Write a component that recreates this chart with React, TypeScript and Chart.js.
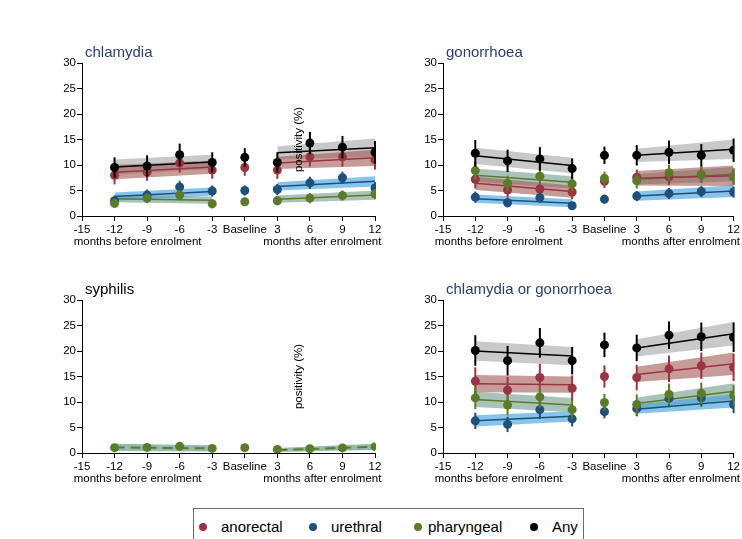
import React, { useEffect, useRef } from 'react';
import { Chart, registerables } from 'chart.js';

Chart.register(...registerables);

const FONT = "'Liberation Sans', Arial, Helvetica, sans-serif";

// ---- axes ----
const xPositions = [-12, -9, -6, -3, 0, 3, 6, 9, 12];
const xTickValues = [-15, -12, -9, -6, -3, 0, 3, 6, 9, 12];
const xTickLabels = ['-15', '-12', '-9', '-6', '-3', 'Baseline', '3', '6', '9', '12'];
const preFitX = [-12, -3];
const postFitX = [3, 12];
const beforeLabel = 'months before enrolment';
const afterLabel = 'months after enrolment';
const yTitle = 'positivity (%)';
const legendLabels = ['anorectal', 'urethral', 'pharyngeal', 'Any'];

// ---- chlamydia ----
const chlAnorectal = [8.0, 8.6, 10.4, 9.0, 9.5, 9.0, 11.6, 11.6, 11.0];
const chlAnorectalErr = [1.8, 1.7, 1.9, 1.7, 1.6, 1.7, 1.9, 1.9, 1.9];
const chlUrethral = [3.0, 4.1, 5.7, 4.9, 5.0, 5.2, 6.5, 7.5, 5.5];
const chlUrethralErr = [1.0, 1.1, 1.2, 1.1, 1.0, 1.1, 1.2, 1.2, 1.1];
const chlPharyngeal = [2.5, 3.5, 4.1, 2.4, 2.8, 3.0, 3.5, 4.0, 4.3];
const chlPharyngealErr = [0.9, 1.0, 1.0, 0.9, 0.8, 0.9, 1.0, 1.0, 1.0];
const chlAny = [9.5, 9.8, 12.0, 10.5, 11.5, 10.5, 14.3, 13.5, 12.5];
const chlAnyErr = [2.0, 2.1, 2.2, 2.0, 1.8, 2.0, 2.2, 2.2, 2.2];
// fits: [pre start, pre end, post start, post end]; band: half widths
const chlAnorectalFit = [8.6, 9.6, 10.4, 11.4];
const chlAnorectalBand = [1.4, 1.3, 1.2, 1.6];
const chlUrethralFit = [3.8, 4.8, 5.8, 6.8];
const chlUrethralBand = [0.8, 0.8, 0.8, 1.0];
const chlPharyngealFit = [3.4, 3.1, 3.3, 4.1];
const chlPharyngealBand = [0.7, 0.7, 0.7, 0.9];
const chlAnyFit = [9.6, 10.6, 12.4, 13.4];
const chlAnyBand = [1.5, 1.4, 1.3, 1.8];

// ---- gonorrhoea ----
const gonAnorectal = [7.2, 5.1, 5.3, 4.7, 6.8, 7.6, 7.7, 8.1, 7.7];
const gonAnorectalErr = [1.8, 1.5, 1.5, 1.4, 1.3, 1.5, 1.6, 1.6, 1.6];
const gonUrethral = [3.7, 2.6, 3.6, 2.0, 3.3, 3.9, 4.4, 4.8, 4.7];
const gonUrethralErr = [1.1, 0.9, 1.0, 0.8, 0.9, 1.0, 1.1, 1.1, 1.1];
const gonPharyngeal = [8.9, 6.4, 7.8, 6.3, 7.4, 6.9, 8.5, 8.1, 7.7];
const gonPharyngealErr = [1.8, 1.5, 1.6, 1.4, 1.3, 1.5, 1.6, 1.6, 1.6];
const gonAny = [12.3, 10.8, 11.2, 9.3, 11.9, 11.9, 12.5, 11.9, 12.9];
const gonAnyErr = [2.6, 2.2, 2.3, 2.0, 1.7, 2.0, 2.3, 2.2, 2.3];
const gonAnorectalFit = [6.4, 4.8, 7.4, 7.9];
const gonAnorectalBand = [1.3, 1.2, 1.4, 2.0];
const gonUrethralFit = [3.4, 2.5, 3.9, 4.9];
const gonUrethralBand = [0.8, 0.8, 0.9, 1.15];
const gonPharyngealFit = [8.0, 6.6, 7.2, 8.2];
const gonPharyngealBand = [1.3, 1.2, 1.0, 1.4];
const gonAnyFit = [11.8, 9.9, 11.9, 13.1];
const gonAnyBand = [1.6, 1.5, 1.3, 1.9];

// ---- syphilis ----
const syphAny = [1.05, 1.1, 1.3, 0.9, 1.05, 0.7, 0.85, 1.0, 1.25];
const syphAnyErr = [0.6, 0.6, 0.6, 0.5, 0.5, 0.5, 0.5, 0.5, 0.6];
const syphAnyFit = [1.1, 0.9, 0.6, 1.2];
const syphAnyBand = [0.7, 0.6, 0.4, 0.6];

// ---- chlamydia or gonorrhoea ----
const cgAnorectal = [14.1, 12.3, 14.8, 12.7, 15.0, 14.8, 16.5, 17.1, 16.8];
const cgAnorectalErr = [2.7, 2.6, 2.7, 2.5, 2.2, 2.5, 2.6, 2.6, 2.7];
const cgUrethral = [6.3, 5.6, 8.5, 6.7, 8.1, 8.7, 10.7, 10.8, 9.5];
const cgUrethralErr = [1.6, 1.5, 1.8, 1.5, 1.3, 1.5, 1.7, 1.7, 1.7];
const cgPharyngeal = [10.8, 9.4, 11.0, 8.5, 9.9, 9.5, 11.5, 11.7, 11.3];
const cgPharyngealErr = [2.2, 2.0, 2.1, 1.9, 1.7, 2.0, 2.1, 2.1, 2.1];
const cgAny = [20.1, 18.1, 21.6, 18.1, 21.2, 20.6, 23.1, 22.8, 22.7];
const cgAnyErr = [3.0, 2.9, 2.9, 2.7, 2.4, 2.6, 2.7, 2.8, 2.9];
const cgAnorectalFit = [13.6, 13.4, 15.4, 17.5];
const cgAnorectalBand = [1.7, 1.6, 1.5, 2.2];
const cgUrethralFit = [6.3, 7.2, 8.6, 10.2];
const cgUrethralBand = [1.1, 1.0, 0.9, 1.3];
const cgPharyngealFit = [10.5, 9.4, 9.7, 12.1];
const cgPharyngealBand = [1.5, 1.4, 1.2, 1.6];
const cgAnyFit = [20.0, 19.0, 20.6, 23.4];
const cgAnyBand = [1.9, 1.8, 1.7, 2.3];

// ---- styles ----
const COLORS = {
  anorectal: '#9b3442',
  urethral: '#1f4f7a',
  pharyngeal: '#5b7b2b',
  any: '#000000',
};
const BANDS = {
  anorectal: 'rgba(160,90,85,0.6)',
  urethral: 'rgba(70,165,225,0.65)',
  pharyngeal: 'rgba(100,145,125,0.55)',
  any: 'rgba(120,120,120,0.4)',
  syph: 'rgba(65,130,110,0.55)',
};
const TITLE_BLUE = '#2d3f6e';

function series(key, pts, err, fit, band, bandColor?, dashed?) {
  return { key, color: COLORS[key], band: bandColor || BANDS[key], pts, err, fit, hw: band, dashed: !!dashed };
}

const panels = [
  {
    title: 'chlamydia', titleColor: TITLE_BLUE, left: 0, top: 20, w: 390, h: 230, padTop: 43, padRight: 15, yW: 82, yTitle: false,
    series: [
      series('anorectal', chlAnorectal, chlAnorectalErr, chlAnorectalFit, chlAnorectalBand),
      series('urethral', chlUrethral, chlUrethralErr, chlUrethralFit, chlUrethralBand),
      series('pharyngeal', chlPharyngeal, chlPharyngealErr, chlPharyngealFit, chlPharyngealBand),
      series('any', chlAny, chlAnyErr, chlAnyFit, chlAnyBand),
    ],
  },
  {
    title: 'gonorrhoea', titleColor: TITLE_BLUE, left: 290, top: 20, w: 452, h: 230, padTop: 43, padRight: 8, yW: 153, yTitle: true,
    series: [
      series('anorectal', gonAnorectal, gonAnorectalErr, gonAnorectalFit, gonAnorectalBand),
      series('urethral', gonUrethral, gonUrethralErr, gonUrethralFit, gonUrethralBand),
      series('pharyngeal', gonPharyngeal, gonPharyngealErr, gonPharyngealFit, gonPharyngealBand),
      series('any', gonAny, gonAnyErr, gonAnyFit, gonAnyBand),
    ],
  },
  {
    title: 'syphilis', titleColor: '#000', left: 0, top: 260, w: 390, h: 227, padTop: 40, padRight: 15, yW: 82, yTitle: false,
    series: [series('pharyngeal', syphAny, syphAnyErr, syphAnyFit, syphAnyBand, BANDS.syph, true)],
  },
  {
    title: 'chlamydia or gonorrhoea', titleColor: TITLE_BLUE, left: 290, top: 260, w: 452, h: 227, padTop: 40, padRight: 8, yW: 153, yTitle: true,
    series: [
      series('anorectal', cgAnorectal, cgAnorectalErr, cgAnorectalFit, cgAnorectalBand),
      series('urethral', cgUrethral, cgUrethralErr, cgUrethralFit, cgUrethralBand),
      series('pharyngeal', cgPharyngeal, cgPharyngealErr, cgPharyngealFit, cgPharyngealBand),
      series('any', cgAny, cgAnyErr, cgAnyFit, cgAnyBand),
    ],
  },
];

function buildDatasets(list) {
  const ds: any[] = [];
  list.forEach((s, si) => {
    [[0, preFitX], [2, postFitX]].forEach(([o, xs]: any) => {
      const hi = xs.map((x, k) => ({ x, y: s.fit[o + k] + s.hw[o + k] }));
      const lo = xs.map((x, k) => ({ x, y: s.fit[o + k] - s.hw[o + k] }));
      const line = xs.map((x, k) => ({ x, y: s.fit[o + k] }));
      ds.push({ data: hi, borderColor: 'rgba(0,0,0,0)', borderWidth: 1, pointRadius: 0, fill: false, order: 30 + si });
      ds.push({ data: lo, borderColor: 'rgba(0,0,0,0)', borderWidth: 1, pointRadius: 0, fill: '-1', backgroundColor: s.band, order: 30 + si });
      ds.push({
        data: line, borderColor: s.color, borderWidth: s.dashed ? 2 : 1.5, pointRadius: 0, fill: false, order: 20 + si,
        borderDash: s.dashed ? [10, 6] : [],
      });
    });
  });
  list.forEach((s, si) => {
    ds.push({
      data: xPositions.map((x, i) => ({ x, y: s.pts[i] })),
      err: s.err,
      showLine: false,
      pointRadius: 4.5,
      pointHoverRadius: 4.5,
      pointBorderWidth: 0,
      backgroundColor: s.color,
      borderColor: s.color,
      order: 10 - si,
    });
  });
  return ds;
}

const errorBarPlugin = {
  id: 'errbars',
  beforeDatasetDraw(chart, args) {
    const ds = chart.data.datasets[args.index];
    if (!ds.err) return;
    const { ctx } = chart;
    const ys = chart.scales.y;
    ctx.save();
    ctx.strokeStyle = ds.borderColor;
    ctx.lineWidth = 2;
    ds.data.forEach((p, i) => {
      const el = args.meta.data[i];
      if (!el) return;
      ctx.beginPath();
      ctx.moveTo(el.x, ys.getPixelForValue(p.y - ds.err[i]));
      ctx.lineTo(el.x, ys.getPixelForValue(p.y + ds.err[i]));
      ctx.stroke();
    });
    ctx.restore();
  },
};

const decorPlugin = {
  id: 'decor',
  afterDraw(chart, _args, opts) {
    const { ctx, chartArea, scales } = chart;
    ctx.save();
    ctx.textBaseline = 'middle';
    ctx.font = `15px ${FONT}`;
    ctx.fillStyle = opts.titleColor;
    ctx.textAlign = 'left';
    ctx.fillText(opts.title, chartArea.left + 3, chartArea.top - 10);
    ctx.font = `11.5px ${FONT}`;
    ctx.fillStyle = '#000';
    const xs = scales.x;
    const yb = chartArea.bottom + 26;
    const wFirst = ctx.measureText(xTickLabels[0]).width;
    const wLast = ctx.measureText(xTickLabels[xTickLabels.length - 1]).width;
    ctx.textAlign = 'left';
    ctx.fillText(beforeLabel, xs.getPixelForValue(xTickValues[0]) - wFirst / 2, yb);
    ctx.textAlign = 'right';
    ctx.fillText(afterLabel, xs.getPixelForValue(xTickValues[xTickValues.length - 1]) + wLast / 2, yb);
    ctx.restore();
  },
};

function makeConfig(p) {
  const tickFont = { family: FONT, size: 11.5 };
  return {
    type: 'line',
    data: { datasets: buildDatasets(p.series) },
    options: {
      animation: false,
      responsive: false,
      devicePixelRatio: 1,
      events: [],
      layout: { padding: { top: p.padTop, right: p.padRight, left: 0, bottom: 0 } },
      plugins: {
        legend: { display: false },
        tooltip: { enabled: false },
        title: { display: false },
        decor: { title: p.title, titleColor: p.titleColor },
      },
      scales: {
        x: {
          type: 'linear',
          min: xTickValues[0],
          max: xTickValues[xTickValues.length - 1],
          afterBuildTicks: (s) => { s.ticks = xTickValues.map((v) => ({ value: v })); },
          ticks: {
            autoSkip: false,
            maxRotation: 0,
            padding: 2,
            color: '#000',
            font: tickFont,
            callback: (v) => xTickLabels[xTickValues.indexOf(v)],
          },
          grid: { drawOnChartArea: false, drawTicks: true, tickLength: 5, color: '#000' },
          border: { display: true, color: '#000', width: 1 },
          afterFit: (s) => { s.height = 34; },
        },
        y: {
          type: 'linear',
          min: 0,
          max: 30,
          ticks: { stepSize: 5, padding: 1, color: '#000', font: tickFont },
          grid: { drawOnChartArea: false, drawTicks: true, tickLength: 5, color: '#000' },
          border: { display: true, color: '#000', width: 1 },
          title: {
            display: p.yTitle,
            text: yTitle,
            color: '#000',
            font: { family: FONT, size: 11.5 },
            padding: { top: 2, bottom: 0 },
          },
          afterFit: (s) => { s.width = p.yW; },
        },
      },
    },
    plugins: [errorBarPlugin, decorPlugin],
  };
}

function Panel({ p }) {
  const ref = useRef<HTMLCanvasElement | null>(null);
  useEffect(() => {
    if (!ref.current) return;
    const chart = new Chart(ref.current, makeConfig(p) as any);
    return () => chart.destroy();
  }, [p]);
  return (
    <canvas
      ref={ref}
      width={p.w}
      height={p.h}
      style={{ position: 'absolute', left: p.left, top: p.top, width: p.w, height: p.h }}
    />
  );
}

const legendColors = [COLORS.anorectal, COLORS.urethral, COLORS.pharyngeal, COLORS.any];
const legendDotX = [203, 313, 418, 534];
const legendTextX = [221, 331, 428, 552];

export default function App() {
  return (
    <div style={{ position: 'fixed', left: 0, top: 0, width: 742, height: 539, background: '#fff', overflow: 'hidden' }}>
      {panels.map((p, i) => <Panel key={i} p={p} />)}
      <div
        style={{
          position: 'absolute', left: 193, top: 508, width: 391, height: 40,
          border: '1px solid #6b6b6b', boxSizing: 'border-box', background: '#fff',
        }}
      />
      {legendLabels.map((l, i) => (
        <React.Fragment key={l}>
          <div
            style={{
              position: 'absolute', left: legendDotX[i] - 4, top: 527 - 4, width: 8, height: 8,
              borderRadius: '50%', background: legendColors[i],
            }}
          />
          <div
            style={{
              position: 'absolute', left: legendTextX[i], top: 527, transform: 'translateY(-50%)',
              font: `15px ${FONT}`, color: '#000', whiteSpace: 'nowrap', lineHeight: '18px',
            }}
          >
            {l}
          </div>
        </React.Fragment>
      ))}
    </div>
  );
}
